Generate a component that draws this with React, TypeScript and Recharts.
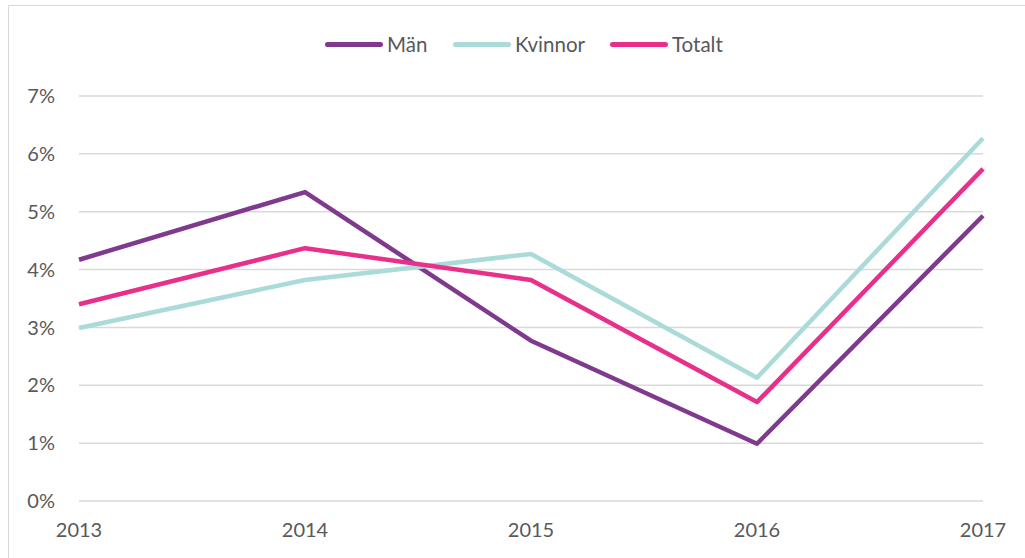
import { CartesianGrid, Line, LineChart, XAxis, YAxis } from "recharts";

const years = ["2013", "2014", "2015", "2016", "2017"];
const man = [0.0417, 0.0534, 0.0277, 0.0099, 0.0493];
const kvinnor = [0.0299, 0.0382, 0.0427, 0.0213, 0.0627];
const totalt = [0.034, 0.0437, 0.0382, 0.0171, 0.0574];
const yTicks = [0, 0.01, 0.02, 0.03, 0.04, 0.05, 0.06, 0.07];

const series = [
  { key: "man", name: "Män", color: "#7f3a8e" },
  { key: "kvinnor", name: "Kvinnor", color: "#aadbd8" },
  { key: "totalt", name: "Totalt", color: "#e8308a" }
];

const data = years.map((year, i) => ({
  year,
  man: man[i],
  kvinnor: kvinnor[i],
  totalt: totalt[i]
}));

const font = "Lato, 'Open Sans', sans-serif";
const textColor = "#595959";
// legend item widths so the three entries start where the original ones do
const legendWidths = [128, 157, 120];

export default function App() {
  return (
    <div style={{ position: "absolute", left: 0, top: 0, width: 1025, height: 558, overflow: "hidden", background: "#fff" }}>
      <div
        style={{
          position: "absolute",
          left: 8,
          top: 5,
          width: 1100,
          height: 700,
          borderLeft: "1.5px solid #d9d9d9",
          borderTop: "1.5px solid #d9d9d9"
        }}
      />
      <div
        style={{
          position: "absolute",
          top: 31,
          left: 325,
          display: "flex",
          alignItems: "center",
          fontFamily: font,
          fontSize: 20.5,
          color: textColor,
          height: 26
        }}
      >
        {series.map((s, i) => (
          <div key={s.key} style={{ display: "flex", alignItems: "center", width: legendWidths[i] }}>
            <div style={{ width: 58, height: 5, borderRadius: 3, background: s.color, marginRight: 4 }} />
            <span>{s.name}</span>
          </div>
        ))}
      </div>
      <div style={{ position: "absolute", left: 0, top: 0 }}>
        <LineChart width={1025} height={558} data={data} margin={{ top: 96, right: 42, bottom: 27, left: 0 }}>
          <CartesianGrid vertical={false} stroke="#d9d9d9" strokeWidth={1.5} />
          <XAxis
            dataKey="year"
            axisLine={false}
            tickLine={false}
            tickSize={0}
            tickMargin={22}
            height={30}
            padding={{ left: 0, right: 0 }}
            tick={{ fill: textColor, fontSize: 20, fontFamily: font }}
            interval={0}
          />
          <YAxis
            domain={[0, 0.07]}
            ticks={yTicks}
            axisLine={false}
            tickLine={false}
            tickSize={0}
            tickMargin={24}
            width={79}
            tickFormatter={(v: number) => `${Math.round(v * 100)}%`}
            tick={{ fill: textColor, fontSize: 20, fontFamily: font }}
          />
          {series.map((s) => (
            <Line
              key={s.key}
              dataKey={s.key}
              name={s.name}
              stroke={s.color}
              strokeWidth={4.5}
              dot={false}
              type="linear"
              strokeLinejoin="round"
              isAnimationActive={false}
            />
          ))}
        </LineChart>
      </div>
    </div>
  );
}
